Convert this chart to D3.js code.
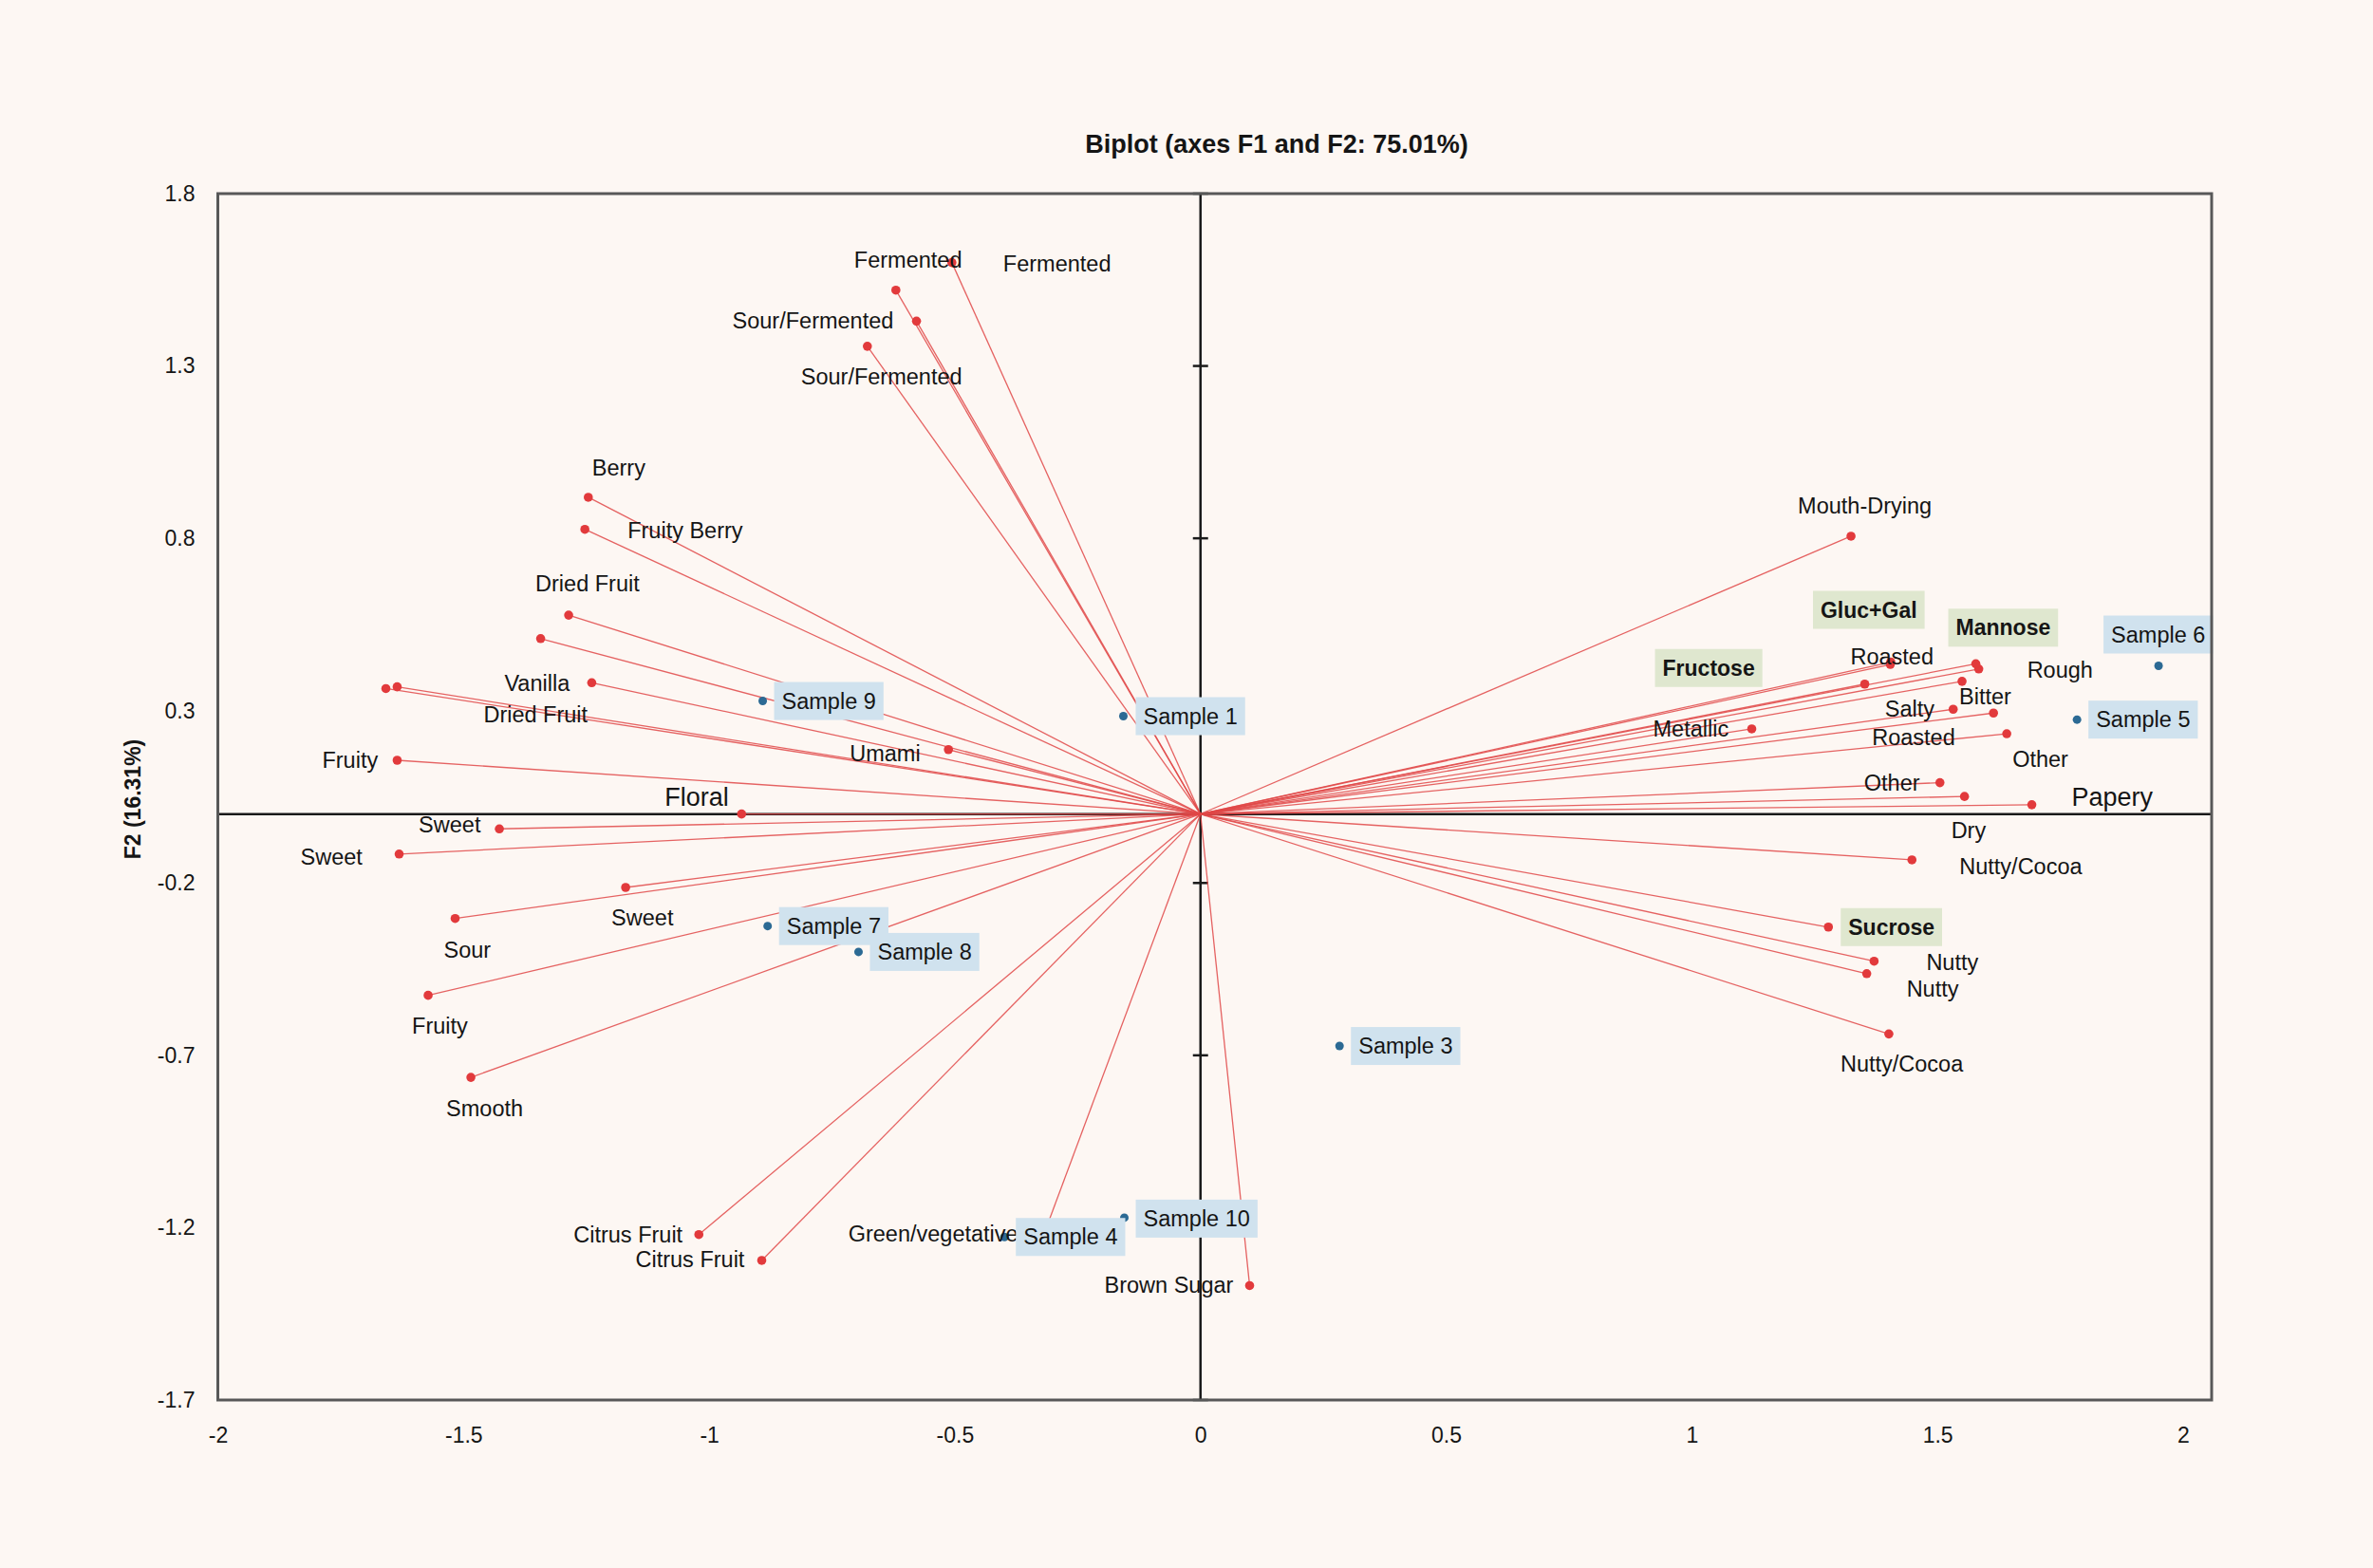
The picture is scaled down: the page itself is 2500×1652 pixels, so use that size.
<!DOCTYPE html>
<html>
<head>
<meta charset="utf-8">
<script src="https://cdn.jsdelivr.net/npm/d3@7"></script>
<style>
  body { margin: 0; background: #fdf7f3; }
  text { font-family: "Liberation Sans", Arial, sans-serif; fill: #151515; }
</style>
</head>
<body>
<svg id="vis" width="2500" height="1652"></svg>
<script>
// Ticks
const xTicks = [-2, -1.5, -1, -0.5, 0, 0.5, 1, 1.5, 2];
const yTicks = [1.8, 1.3, 0.8, 0.3, -0.2, -0.7, -1.2, -1.7];

// Sensory attributes (red vectors), F1 / F2 coordinates
const attrNames = ["Fermented", "Fermented", "Sour/Fermented", "Sour/Fermented", "Berry", "Fruity Berry",
  "Dried Fruit", "", "Vanilla", "", "Dried Fruit", "Fruity", "Umami", "Floral", "Sweet", "Sweet", "Sweet",
  "Sour", "Fruity", "Smooth", "Citrus Fruit", "Citrus Fruit", "Green/vegetative", "Brown Sugar",
  "Mouth-Drying", "Roasted", "Rough", "Bitter", "Salty", "Roasted", "Other", "Metallic", "Other", "Dry",
  "Papery", "Nutty/Cocoa", "Nutty", "Nutty", "Nutty/Cocoa"];
const attrF1 = [-0.620, -0.506, -0.578, -0.678, -1.246, -1.253,
  -1.286, -1.343, -1.239, -1.658, -1.635, -1.635, -0.513, -0.934, -1.427, -1.631, -1.170,
  -1.517, -1.572, -1.485, -1.021, -0.893, -0.315, 0.100,
  1.324, 1.404, 1.584, 1.550, 1.532, 1.614, 1.641, 1.122, 1.505, 1.555,
  1.692, 1.448, 1.371, 1.356, 1.401];
const attrF2 = [1.520, 1.600, 1.430, 1.357, 0.919, 0.826,
  0.577, 0.509, 0.381, 0.364, 0.369, 0.156, 0.187, 0.000, -0.043, -0.116, -0.213,
  -0.303, -0.526, -0.764, -1.220, -1.295, -1.205, -1.368,
  0.806, 0.434, 0.421, 0.385, 0.304, 0.293, 0.233, 0.247, 0.091, 0.051,
  0.027, -0.133, -0.427, -0.463, -0.638];

// Sugars (red vectors with highlighted labels)
const sugarNames = ["Fructose", "Gluc+Gal", "Mannose", "Sucrose"];
const sugarF1 = [1.352, 1.405, 1.578, 1.278];
const sugarF2 = [0.377, 0.441, 0.436, -0.328];

// Samples (blue observations)
const sampleNames = ["Sample 1", "Sample 3", "Sample 4", "Sample 5", "Sample 6", "Sample 7", "Sample 8", "Sample 9", "Sample 10"];
const sampleF1 = [-0.157, 0.283, -0.399, 1.784, 1.950, -0.881, -0.696, -0.891, -0.155];
const sampleF2 = [0.284, -0.673, -1.227, 0.274, 0.430, -0.325, -0.400, 0.328, -1.171];

// label placement (pixel offset from the point: text start, vertical centre)
const attrLabelOffset = [[-44, -32], [54, 1], [-194, 0], [-70, 32], [4, -31], [45, 1],
  [-35, -33], null, [-92, 1], null, [91, 29], [-79, 0], [-104, 4], [-81, -18], [-85, -4], [-104, 3], [-15, 32],
  [-12, 33], [-17, 32], [-26, 33], [-132, 0], [-133, -1], [-208, 5], [-153, 0],
  [-56, -32], [-42, -8], [51, 1], [-3, 16], [-72, 0], [-128, 26], [6, 27], [-104, 0], [-80, 0], [-14, 36],
  [42, -8], [50, 7], [55, 1], [42, 16], [-51, 32]];
const sugarLabelOffset = [[-213, -17], [-74, -55], [-21, -38], [21, 0]];
const sampleLabelOffset = [[21, 0], [20, 0], [20, 0], [20, 0], [-50, -33], [20, 0], [20, 0], [20, 0], [20, 1]];
const bigLabels = new Set(["Floral", "Papery"]);

const SVG = d3.select("#vis");
const plot = { left: 229.5, right: 2330, top: 204, bottom: 1475 };

const x = d3.scaleLinear().domain([-2, 2.058]).range([plot.left, plot.right]);
const y = d3.scaleLinear().domain([-1.7, 1.8]).range([plot.bottom, plot.top]);

const attrs = attrNames.map((n, i) => ({ name: n, f1: attrF1[i], f2: attrF2[i], off: attrLabelOffset[i] }));
const sugars = sugarNames.map((n, i) => ({ name: n, f1: sugarF1[i], f2: sugarF2[i], off: sugarLabelOffset[i] }));
const samples = sampleNames.map((n, i) => ({ name: n, f1: sampleF1[i], f2: sampleF2[i], off: sampleLabelOffset[i] }));
const vectors = attrs.concat(sugars);

// title
SVG.append("text")
  .attr("x", 1345).attr("y", 152)
  .attr("text-anchor", "middle").attr("dominant-baseline", "central")
  .style("font-size", "27px").style("font-weight", "bold")
  .text("Biplot (axes F1 and F2: 75.01%)");

// y axis title
SVG.append("text")
  .attr("transform", "translate(140,842) rotate(-90)")
  .attr("text-anchor", "middle").attr("dominant-baseline", "central")
  .style("font-size", "23px").style("font-weight", "bold")
  .text("F2 (16.31%)");

// tick labels through d3 axes (plain hyphen minus, as in the original)
const fmt = d => String(d);
const xAxis = SVG.append("g")
  .attr("transform", `translate(0,${plot.bottom})`)
  .call(d3.axisBottom(x).tickValues(xTicks).tickSize(0).tickPadding(29).tickFormat(fmt));
const yAxis = SVG.append("g")
  .attr("transform", `translate(${plot.left},0)`)
  .call(d3.axisLeft(y).tickValues(yTicks).tickSize(0).tickPadding(24).tickFormat(fmt));
[xAxis, yAxis].forEach(a => {
  a.select(".domain").remove();
  a.selectAll("text").style("font-size", "23px").style("font-family", null).attr("fill", "#151515");
});

// axes through the origin
SVG.append("line")
  .attr("x1", plot.left).attr("x2", plot.right).attr("y1", y(0)).attr("y2", y(0))
  .attr("stroke", "#1a1a1a").attr("stroke-width", 2.5);
SVG.append("line")
  .attr("x1", x(0)).attr("x2", x(0)).attr("y1", plot.top).attr("y2", plot.bottom)
  .attr("stroke", "#1a1a1a").attr("stroke-width", 2.5);
SVG.selectAll("line.ytick")
  .data(yTicks)
  .join("line")
  .attr("class", "ytick")
  .attr("x1", x(0) - 8).attr("x2", x(0) + 8)
  .attr("y1", d => y(d)).attr("y2", d => y(d))
  .attr("stroke", "#1a1a1a").attr("stroke-width", 2.5);

// vectors
SVG.selectAll("line.vec")
  .data(vectors)
  .join("line")
  .attr("class", "vec")
  .attr("x1", x(0)).attr("y1", y(0))
  .attr("x2", d => x(d.f1)).attr("y2", d => y(d.f2))
  .attr("stroke", "#e04848").attr("stroke-width", 1.3).attr("stroke-opacity", 0.85);

SVG.selectAll("circle.vec")
  .data(vectors)
  .join("circle")
  .attr("class", "vec")
  .attr("cx", d => x(d.f1)).attr("cy", d => y(d.f2))
  .attr("r", 4.8)
  .attr("fill", "#e23a3c");

SVG.selectAll("circle.obs")
  .data(samples)
  .join("circle")
  .attr("class", "obs")
  .attr("cx", d => x(d.f1)).attr("cy", d => y(d.f2))
  .attr("r", 4.5)
  .attr("fill", "#2c6a94");

// plain attribute labels
SVG.selectAll("text.attr")
  .data(attrs.filter(d => d.name && d.off))
  .join("text")
  .attr("class", "attr")
  .attr("x", d => x(d.f1) + d.off[0])
  .attr("y", d => y(d.f2) + d.off[1])
  .attr("dominant-baseline", "central")
  .style("font-size", d => bigLabels.has(d.name) ? "27px" : "23.5px")
  .text(d => d.name);

// boxed labels (sugars and samples) drawn on top
function boxed(data, cls, fill, bold) {
  const g = SVG.selectAll("g." + cls)
    .data(data)
    .join("g")
    .attr("class", cls);
  g.append("rect").attr("fill", fill);
  g.append("text")
    .attr("x", d => x(d.f1) + d.off[0])
    .attr("y", d => y(d.f2) + d.off[1])
    .attr("dominant-baseline", "central")
    .style("font-size", bold ? "23px" : "23.5px")
    .style("font-weight", bold ? "bold" : "normal")
    .text(d => d.name);
  g.each(function () {
    const t = d3.select(this).select("text").node();
    const w = t.getComputedTextLength();
    const tx = +t.getAttribute("x"), ty = +t.getAttribute("y");
    d3.select(this).select("rect")
      .attr("x", tx - 8).attr("y", ty - 20)
      .attr("width", w + 16).attr("height", 40);
  });
}
boxed(sugars, "sugar", "#dfe7cf", true);
boxed(samples, "sample", "#d0e2ee", false);

// plot frame
SVG.append("rect")
  .attr("x", plot.left).attr("y", plot.top)
  .attr("width", plot.right - plot.left).attr("height", plot.bottom - plot.top)
  .attr("fill", "none").attr("stroke", "#585858").attr("stroke-width", 3);
</script>
</body>
</html>
